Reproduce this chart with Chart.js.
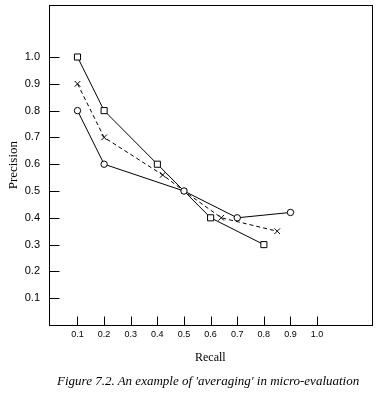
<!DOCTYPE html>
<html>
<head>
<meta charset="utf-8">
<script src="https://cdn.jsdelivr.net/npm/chart.js@4.4.1/dist/chart.umd.min.js"></script>
<style>
  html, body { margin: 0; padding: 0; background: #fff; }
  #wrap { width: 377px; height: 397px; position: relative; }
  #caption {
    position: absolute; left: 57px; top: 373px;
    font: italic 13px/15px "Liberation Serif", serif; color: #000;
    white-space: nowrap;
  }
</style>
</head>
<body>
<div id="wrap">
  <canvas id="chart"></canvas>
  <div id="caption"></div>
</div>
<script>
const tickValues = [0.1, 0.2, 0.3, 0.4, 0.5, 0.6, 0.7, 0.8, 0.9, 1.0];

// query A (squares)
const squareRecall = [0.1, 0.2, 0.4, 0.6, 0.8];
const squarePrecision = [1.0, 0.8, 0.6, 0.4, 0.3];

// query B (circles)
const circleRecall = [0.1, 0.2, 0.5, 0.7, 0.9];
const circlePrecision = [0.8, 0.6, 0.5, 0.4, 0.42];

// average (crosses, dashed)
const avgRecall = [0.1, 0.2, 0.42, 0.5, 0.64, 0.85];
const avgPrecision = [0.9, 0.7, 0.56, 0.5, 0.4, 0.35];

const caption = "Figure 7.2. An example of 'averaging' in micro-evaluation";
document.getElementById("caption").textContent = caption;

const toPoints = (xs, ys) => xs.map((x, i) => ({ x, y: ys[i] }));

// box round the plot + tick marks pointing inward
const frameAndTicks = {
  id: "frameAndTicks",
  beforeDatasetsDraw(chart) {
    const { ctx, chartArea: a, scales: { x, y } } = chart;
    const l = Math.round(a.left) + 0.5, t = Math.round(a.top) + 0.5;
    const r = Math.round(a.right) + 0.5, b = Math.round(a.bottom) + 0.5;
    ctx.save();
    ctx.strokeStyle = "#000";
    ctx.lineWidth = 1;
    ctx.strokeRect(l, t, r - l, b - t);
    ctx.beginPath();
    x.ticks.forEach(tk => {
      const px = Math.round(x.getPixelForValue(tk.value)) + 0.5;
      ctx.moveTo(px, b);
      ctx.lineTo(px, b - 9);
    });
    y.ticks.forEach(tk => {
      const py = Math.round(y.getPixelForValue(tk.value)) + 0.5;
      ctx.moveTo(l, py);
      ctx.lineTo(l + 10, py);
    });
    ctx.stroke();
    ctx.restore();
  }
};

const marker = {
  borderColor: "#000",
  backgroundColor: "#fff",
  pointBackgroundColor: "#fff",
  pointBorderColor: "#000",
  borderWidth: 1,
  pointBorderWidth: 1,
  showLine: true,
  tension: 0
};

new Chart(document.getElementById("chart"), {
  type: "scatter",
  data: {
    datasets: [
      { ...marker, label: "B", data: toPoints(circleRecall, circlePrecision), pointStyle: "circle", pointRadius: 3.2 },
      { ...marker, label: "A", data: toPoints(squareRecall, squarePrecision), pointStyle: "rect", pointRadius: 4.3 },
      { ...marker, label: "avg", data: toPoints(avgRecall, avgPrecision), pointStyle: "crossRot", pointRadius: 4, borderDash: [4, 3] }
    ]
  },
  options: {
    responsive: true,
    maintainAspectRatio: false,
    animation: false,
    devicePixelRatio: 1,
    layout: { padding: { left: 0, right: 3, top: 3, bottom: 0 } },
    plugins: {
      legend: { display: false },
      tooltip: { enabled: false },
      title: { display: false }
    },
    scales: {
      x: {
        type: "linear",
        min: -0.007,
        max: 1.205,
        afterBuildTicks: s => { s.ticks = tickValues.map(v => ({ value: v })); },
        afterFit: s => { s.height = 72; s.paddingLeft = 0; s.paddingRight = 0; },
        grid: { display: false, drawTicks: false },
        border: { display: false },
        ticks: {
          autoSkip: false,
          maxRotation: 0,
          padding: 4,
          color: "#000",
          font: { family: "Liberation Sans", size: 9 },
          callback: v => v.toFixed(1)
        },
        title: {
          display: true,
          text: "Recall",
          color: "#000",
          font: { family: "Liberation Serif", size: 12 },
          padding: { top: 0, bottom: 32.3 }
        }
      },
      y: {
        type: "linear",
        min: 0,
        max: 1.193,
        afterBuildTicks: s => { s.ticks = tickValues.map(v => ({ value: v })); },
        afterFit: s => { s.width = 49; s.paddingTop = 0; s.paddingBottom = 0; },
        grid: { display: false, drawTicks: false },
        border: { display: false },
        ticks: {
          autoSkip: false,
          padding: 9,
          color: "#000",
          font: { family: "Liberation Sans", size: 11 },
          callback: v => v.toFixed(1)
        },
        title: {
          display: true,
          text: "Precision",
          color: "#000",
          font: { family: "Liberation Serif", size: 13 },
          padding: { top: 6, bottom: 0 }
        }
      }
    }
  },
  plugins: [frameAndTicks]
});
</script>
</body>
</html>
